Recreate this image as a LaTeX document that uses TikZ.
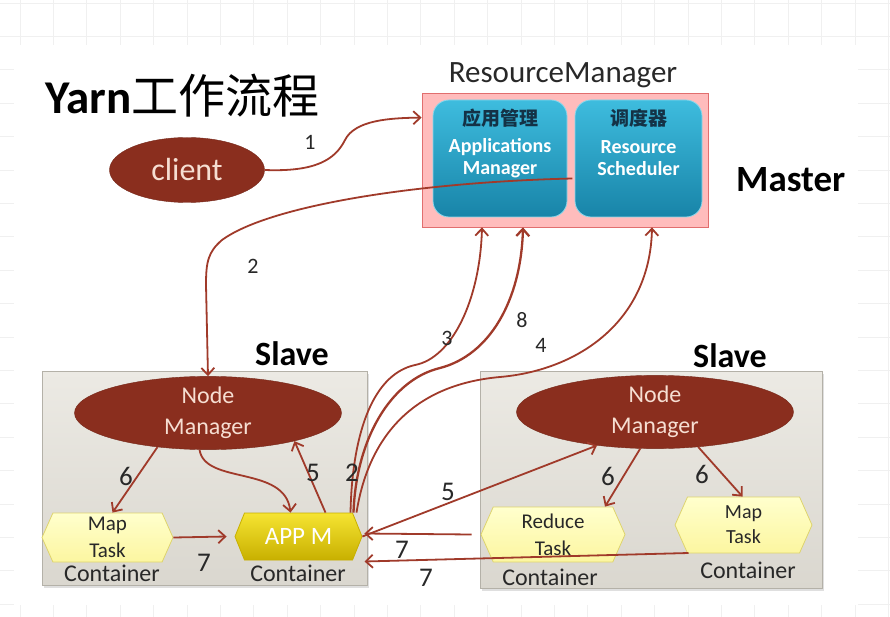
\documentclass[tikz,border=0pt]{standalone}
\usepackage{fontspec}
\setmainfont{Carlito}
\newfontfamily\cjk{Noto Sans CJK SC}
\usetikzlibrary{arrows.meta,shapes.geometric,shapes.symbols,shadows}
\definecolor{arrred}{RGB}{160,58,42}
\definecolor{ellred}{RGB}{138,46,30}
\definecolor{elltext}{RGB}{246,222,210}
\definecolor{rmfill}{RGB}{255,188,188}
\definecolor{rmdraw}{RGB}{225,110,110}
\definecolor{tealtop}{RGB}{62,188,222}
\definecolor{tealbot}{RGB}{24,132,168}
\definecolor{slavetop}{RGB}{236,234,228}
\definecolor{slavebot}{RGB}{218,215,207}
\definecolor{slavedraw}{RGB}{180,177,168}
\definecolor{hexfill}{RGB}{255,255,205}
\definecolor{hexbot}{RGB}{252,246,160}
\definecolor{hexdraw}{RGB}{222,212,110}
\definecolor{appmtop}{RGB}{246,228,50}
\definecolor{appmbot}{RGB}{200,176,0}
\definecolor{gridc}{RGB}{240,240,240}
\definecolor{darktext}{RGB}{40,40,40}
\definecolor{cntext}{RGB}{20,50,70}
\begin{document}
\begin{tikzpicture}[x=1pt,y=-1pt,
  arr/.style={draw=arrred,line width=1.8pt,-{Straight Barb[length=7pt,width=13pt]}},
  ellnode/.style={ellipse,fill=ellred,draw=ellred!85!black,text=elltext,inner sep=0pt,align=center,font=\fontsize{24}{31}\selectfont},
  rmbox/.style={rectangle,fill=rmfill,draw=rmdraw,line width=0.8pt,inner sep=0pt},
  tealbox/.style={rectangle,rounded corners=16pt,top color=tealtop,bottom color=tealbot,draw=tealtop!60!white,line width=0.8pt,inner sep=0pt},
  slavebox/.style={rectangle,top color=slavetop,bottom color=slavebot,draw=slavedraw,line width=0.8pt,inner sep=0pt,drop shadow={shadow xshift=2pt,shadow yshift=-3pt,opacity=0.25}},
  hexnode/.style={signal,signal to=east and west,signal pointer angle=132,inner sep=0pt,top color=hexfill,bottom color=hexbot,draw=hexdraw,line width=0.8pt,align=center,text=darktext,font=\fontsize{21}{27}\selectfont},
  appmnode/.style={signal,signal to=east and west,signal pointer angle=136,inner sep=0pt,top color=appmtop,bottom color=appmbot,draw=appmbot,line width=0.8pt,text=white,font=\fontsize{25}{30}\selectfont},
  numlbl/.style={text=darktext,inner sep=0pt,font=\fontsize{22}{26}\selectfont},
  biglbl/.style={text=darktext,inner sep=0pt,font=\fontsize{27}{30}\selectfont},
  contlbl/.style={text=darktext,inner sep=0pt,font=\fontsize{24}{28}\selectfont},
  slavelbl/.style={anchor=base,inner sep=0pt,font=\fontsize{34}{38}\selectfont\bfseries},
  gridline/.style={draw=gridc,line width=0.7pt}
]
\useasboundingbox (0,0) rectangle (890,617);
% background grid and slide
\foreach \i in {0,...,26} {\draw[gridline] ({20+33.4*\i},0) -- ({20+33.4*\i},617);}
\foreach \j in {0,...,18} {\draw[gridline] (0,{3+33.4*\j}) -- (890,{3+33.4*\j});}
\fill[white] (14,45) rectangle (858,605);

% title
\node[anchor=base west,inner sep=0pt,font=\fontsize{47}{50}\selectfont] (title) at (45,114) {{\bfseries Yarn}{\cjk 工作流程}};

% ResourceManager
\node[anchor=base,inner sep=0pt,text=darktext,font=\fontsize{31}{34}\selectfont] (rmtitle) at (563,83) {ResourceManager};
\node[rmbox,minimum width=286pt,minimum height=134pt] (rm) at (565,160) {};
\node[tealbox,minimum width=134pt,minimum height=117pt] (am) at (500,158.5) {};
\node[tealbox,minimum width=127pt,minimum height=117pt] (sched) at (638.5,158.5) {};
\node[inner sep=0pt,text=cntext,font=\fontsize{19}{22}\selectfont\cjk\bfseries] (amcn) at (500,118) {应用管理};
\node[inner sep=0pt,text=white,align=center,font=\fontsize{20}{22}\selectfont\bfseries] (amen) at (500,158) {Applications\\Manager};
\node[inner sep=0pt,text=cntext,font=\fontsize{19}{22}\selectfont\cjk\bfseries] (schcn) at (638.5,118) {调度器};
\node[inner sep=0pt,text=white,align=center,font=\fontsize{20}{22}\selectfont\bfseries] (schen) at (638.5,158) {Resource\\Scheduler};
\node[anchor=base west,inner sep=0pt,font=\fontsize{37}{40}\selectfont\bfseries] (master) at (736,192) {Master};

% client
\node[ellnode,minimum width=155pt,minimum height=65pt,font=\fontsize{32}{36}\selectfont] (client) at (187,170) {client};

% slaves
\node[slavebox,minimum width=325pt,minimum height=214pt] (slave1) at (204.5,478) {};
\node[slavebox,minimum width=342pt,minimum height=217pt] (slave2) at (651,479.5) {};
\node[slavelbl] (s1lbl) at (292,365) {Slave};
\node[slavelbl] (s2lbl) at (730,367) {Slave};

\node[ellnode,minimum width=267pt,minimum height=68pt] (nm1) at (208,413) {Node\\Manager};
\node[ellnode,minimum width=277pt,minimum height=71pt] (nm2) at (655,412) {Node\\Manager};

\node[hexnode,minimum width=131pt,minimum height=49pt] (map1) at (107.5,537.5) {Map\\Task};
\node[appmnode,minimum width=127pt,minimum height=47pt] (appm) at (298.5,536.5) {APP M};
\node[hexnode,minimum width=144pt,minimum height=55pt] (reduce) at (553,534.5) {Reduce\\Task};
\node[hexnode,minimum width=137pt,minimum height=56pt,font=\fontsize{20}{25}\selectfont] (map2) at (743.5,525) {Map\\Task};

\node[contlbl] (c1) at (112,573) {Container};
\node[contlbl] (c2) at (298,573) {Container};
\node[contlbl] (c3) at (550,577) {Container};
\node[contlbl] (c4) at (748,570) {Container};

% arrows
\draw[arr] (client.east) .. controls (315,172) and (335,160) .. (345,140)
  .. controls (355,120) and (390,118) .. ([yshift=-25pt]rm.north west);
\draw[arr] ([xshift=5pt,yshift=-20pt]am.east) .. controls (420,182) and (270,205) .. (222,240)
  .. controls (208,252) and (206,262) .. (206,285) -- (nm1.north);
\draw[arr] (nm1.214) -- ([xshift=5pt]map1.north);
\draw[arr] (nm1.257) .. controls (205,485) and (285,465) .. ([xshift=-8pt]appm.north);
\draw[arr] ([xshift=27pt]appm.north) -- (nm1.-18);
\draw[arr] ([xshift=52pt]appm.north) .. controls (352,440) and (370,375) .. (415,365)
  .. controls (452,358) and (480,300) .. ([xshift=-83pt]rm.south);
\draw[arr,line width=2.3pt] ([xshift=55pt]appm.north) .. controls (356,440) and (390,380) .. (440,368)
  .. controls (490,355) and (521,300) .. ([xshift=-42pt]rm.south);
\draw[arr] ([xshift=58pt]appm.north) .. controls (368,440) and (410,385) .. (500,377)
  .. controls (580,370) and (650,320) .. ([xshift=87pt]rm.south);
\draw[arr] (appm.east) -- (nm2.210);
\draw[arr] (nm2.248) -- ([xshift=52pt]reduce.north);
\draw[arr] (nm2.-39) -- ([xshift=-1pt]map2.north);
\draw[arr] (map1.east) -- ([xshift=-8pt]appm.west);
\draw[arr] ([xshift=-9pt]reduce.west) -- ([xshift=2pt,yshift=3pt]appm.east);
\draw[arr] ([xshift=-55pt,yshift=-28pt]map2.center) -- ([xshift=66pt,yshift=-25pt]appm.center);

% number labels
\node[numlbl] (n1) at (310,142) {1};
\node[numlbl] (n2a) at (253,266) {2};
\node[numlbl] (n3) at (447,338) {3};
\node[numlbl] (n8) at (522,320) {8};
\node[numlbl] (n4) at (541,345) {4};
\node[biglbl] (n6a) at (126,476) {6};
\node[biglbl] (n5a) at (313,473) {5};
\node[biglbl] (n2b) at (352,473) {2};
\node[biglbl] (n5b) at (448,492) {5};
\node[biglbl] (n6b) at (608,476) {6};
\node[biglbl] (n6c) at (702,474) {6};
\node[biglbl] (n7a) at (204,563) {7};
\node[biglbl] (n7b) at (402,550) {7};
\node[biglbl] (n7c) at (426,578) {7};
\end{tikzpicture}
\end{document}
